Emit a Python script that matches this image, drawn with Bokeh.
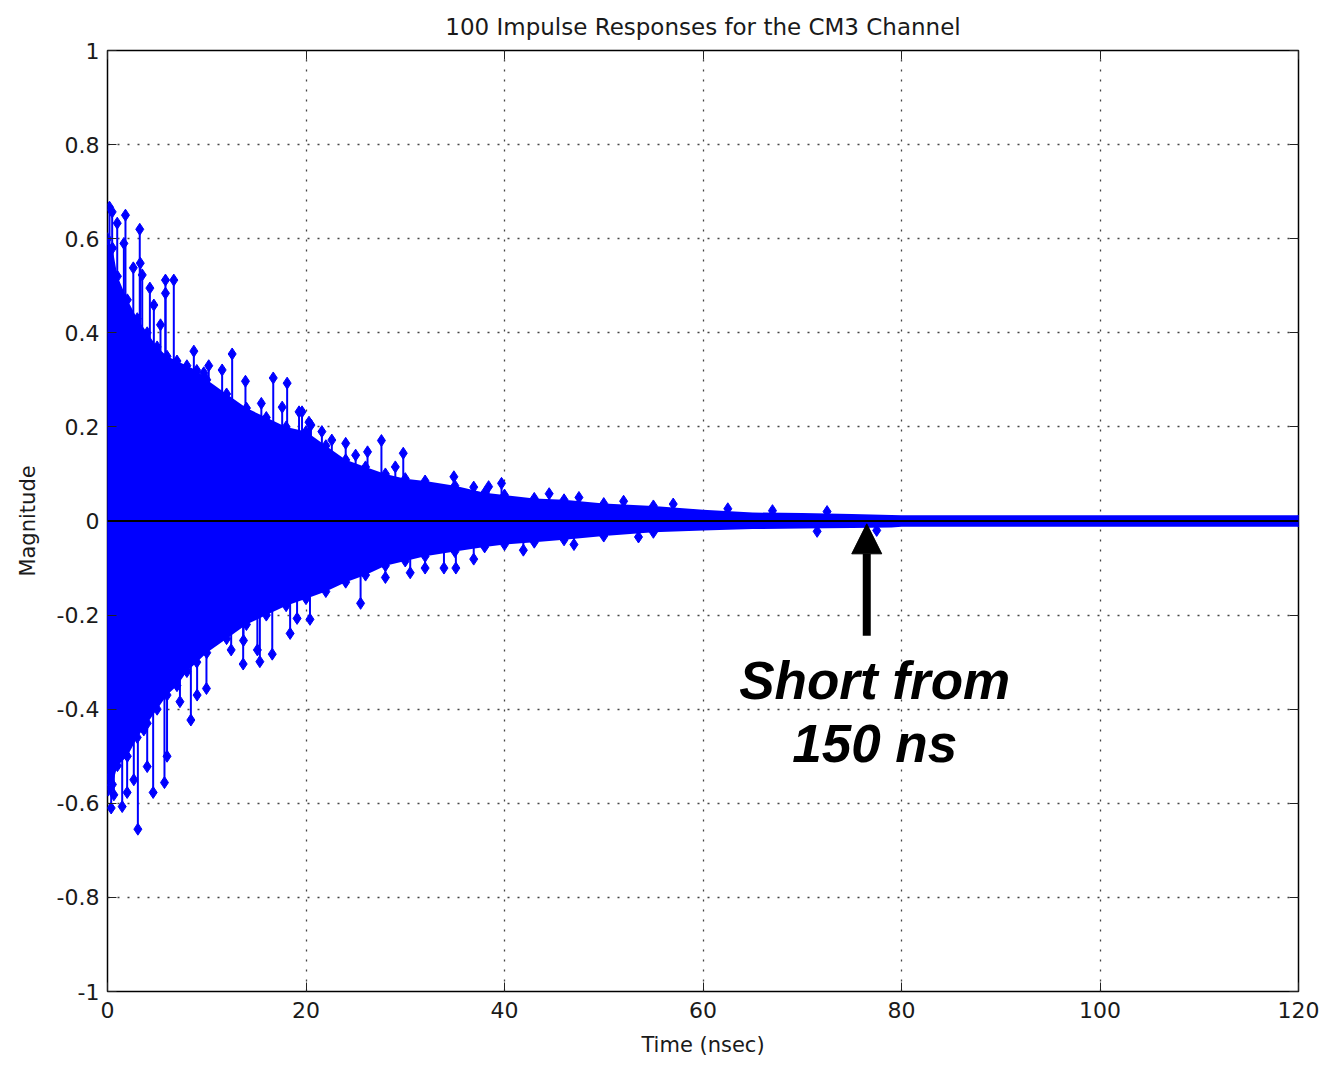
from bokeh.plotting import figure
from bokeh.models import (Range1d, FixedTicker, LinearAxis, Span, Label, Arrow, NormalHead,
                          ColumnDataSource, CustomJSTickFormatter)
from bokeh.embed import file_html
from bokeh.resources import INLINE

# ---- data ----
# envelope of the dense (solid) part of the 100 overlaid responses
env_t = [0, 0.5, 1, 2, 3, 4, 5, 6, 7, 8, 9, 10, 12, 14, 16, 18, 20, 22, 24, 26, 28, 30,
         32, 35, 38, 40, 43, 46, 50, 55, 60, 65, 70, 75, 79, 80, 120]
env_up = [0.60, 0.58, 0.52, 0.47, 0.43, 0.40, 0.37, 0.35, 0.34, 0.33, 0.32, 0.30, 0.27,
          0.24, 0.22, 0.20, 0.19, 0.16, 0.13, 0.115, 0.10, 0.09, 0.085, 0.075, 0.06, 0.055,
          0.048, 0.045, 0.037, 0.032, 0.024, 0.018, 0.017, 0.015, 0.013, 0.012, 0.012]
env_lo = [-0.55, -0.56, -0.52, -0.50, -0.46, -0.43, -0.40, -0.37, -0.35, -0.32, -0.30,
          -0.28, -0.25, -0.22, -0.20, -0.18, -0.165, -0.15, -0.13, -0.115, -0.095, -0.085,
          -0.075, -0.065, -0.055, -0.05, -0.045, -0.04, -0.032, -0.024, -0.02, -0.017,
          -0.016, -0.015, -0.014, -0.012, -0.012]

# isolated positive peaks
pos_t = [0.2, 0.47, 0.98, 1.81, 3.25, 1.65, 3.3, 2.6, 3.5, 4.27, 5.84, 6.68, 5.84, 4.67,
         5.34, 8.7, 12.56, 10.2, 11.55, 9.7, 13.9, 16.7, 18.1, 15.5, 17.6, 19.3, 20.3,
         19.6, 24.0, 27.6, 26.2, 29.8, 25.0, 29.0, 34.9, 36.9, 38.4, 39.7, 20.5, 21.6, 22.6,
         44.5, 47.5, 52.0, 57.0, 62.5, 67.0, 72.5]
pos_v = [0.667, 0.657, 0.633, 0.650, 0.62, 0.59, 0.548, 0.538, 0.523, 0.495, 0.512, 0.512,
         0.484, 0.459, 0.417, 0.361, 0.355, 0.33, 0.321, 0.315, 0.297, 0.304, 0.293, 0.25,
         0.242, 0.232, 0.21, 0.232, 0.165, 0.171, 0.147, 0.144, 0.14, 0.115, 0.094, 0.072,
         0.073, 0.08, 0.204, 0.19, 0.172,
         0.058, 0.05, 0.042, 0.036, 0.026, 0.022, 0.02]

# isolated negative peaks
neg_t = [3.06, 0.37, 1.48, 0.64, 1.98, 0.05, 4.6, 5.74, 4.0, 6.0, 2.65, 8.4, 7.3, 9.03,
         9.97, 13.67, 15.35, 16.6, 12.46, 13.7, 18.4, 15.1, 20.4, 19.1, 3.66, 25.5, 28.0,
         30.5, 32.0, 36.9, 35.1, 33.9, 41.9, 47.0, 53.5, 71.5, 77.5]
neg_v = [-0.655, -0.61, -0.607, -0.582, -0.577, -0.572, -0.577, -0.556, -0.522, -0.5, -0.55,
         -0.423, -0.384, -0.37, -0.356, -0.304, -0.299, -0.283, -0.274, -0.254, -0.239,
         -0.274, -0.209, -0.207, -0.444, -0.175, -0.12, -0.11, -0.10, -0.081, -0.1, -0.1,
         -0.062, -0.05, -0.034, -0.022, -0.02]

x_ticks = [0, 20, 40, 60, 80, 100, 120]
y_ticks = [-1, -0.8, -0.6, -0.4, -0.2, 0, 0.2, 0.4, 0.6, 0.8, 1]
y_tick_labels = ["-1", "-0.8", "-0.6", "-0.4", "-0.2", "0", "0.2", "0.4", "0.6", "0.8", "1"]

title_text = "100 Impulse Responses for the CM3 Channel"
note_line1 = "Short from"
note_line2 = "150 ns"
arrow_t = 76.5

# ---- figure ----
BLUE = "#0000FF"
TXT = "#1a1a1a"
FONT = "DejaVu Sans"

p = figure(width=1322, height=1065, x_range=Range1d(0, 120), y_range=Range1d(-1, 1),
           output_backend="svg", toolbar_location=None,
           min_border_left=107, min_border_right=24, min_border_top=50, min_border_bottom=74,
           title=title_text)
p.title.align = "center"
p.title.text_font = FONT
p.title.text_font_size = "23px"
p.title.text_font_style = "normal"
p.title.text_color = TXT
p.title.offset = 0
p.title.standoff = 22

p.outline_line_color = "black"
p.outline_line_width = 1.5
p.background_fill_color = "white"
p.border_fill_color = "white"

# dense envelope
p.varea(x=env_t, y1=env_lo, y2=env_up, fill_color=BLUE)

# stems
all_t = pos_t + neg_t + env_t[:30] + env_t[:30]
all_v = pos_v + neg_v + env_up[:30] + env_lo[:30]
src = ColumnDataSource(dict(t=all_t, v=all_v, z=[0] * len(all_t)))
p.segment(x0="t", y0="z", x1="t", y1="v", source=src, line_color=BLUE, line_width=2)
p.scatter(x="t", y="v", source=src, marker="diamond", size=12,
          fill_color=BLUE, line_color=BLUE)
p.scatter(x=[env_t[-1]], y=[0], marker="diamond", size=12, fill_color=BLUE, line_color=BLUE)

# zero baseline
p.add_layout(Span(location=0, dimension="width", line_color="black", line_width=2))

# axes styling
for ax in (p.xaxis[0], p.yaxis[0]):
    ax.major_label_text_font = FONT
    ax.major_label_text_font_size = "22px"
    ax.major_label_text_color = TXT
    ax.axis_label_text_font = FONT
    ax.axis_label_text_font_size = "21px"
    ax.axis_label_text_font_style = "normal"
    ax.axis_label_text_color = TXT
    ax.axis_line_color = None
    ax.major_tick_in = 9
    ax.major_tick_out = 0
    ax.major_tick_line_color = "#222222"
    ax.minor_tick_line_color = None

p.xaxis.ticker = FixedTicker(ticks=x_ticks)
p.yaxis.ticker = FixedTicker(ticks=y_ticks)
p.yaxis.major_label_overrides = {v: s for v, s in zip(y_ticks, y_tick_labels)}
p.xaxis.major_label_standoff = 10
p.yaxis.major_label_standoff = 8
p.xaxis.axis_label = "Time (nsec)"
p.yaxis.axis_label = "Magnitude"
p.xaxis.axis_label_standoff = 12
p.yaxis.axis_label_standoff = 14

# mirrored ticks on top and right (no labels)
blank = CustomJSTickFormatter(code="return ''")
top = LinearAxis(ticker=FixedTicker(ticks=x_ticks), formatter=blank,
                 major_tick_in=9, major_tick_out=0, minor_tick_line_color=None,
                 axis_line_color=None, major_tick_line_color="#222222",
                 major_label_standoff=0)
right = LinearAxis(ticker=FixedTicker(ticks=y_ticks), formatter=blank,
                   major_tick_in=9, major_tick_out=0, minor_tick_line_color=None,
                   axis_line_color=None, major_tick_line_color="#222222",
                   major_label_standoff=0)
p.add_layout(top, "above")
p.add_layout(right, "right")

# grid
for g in (p.xgrid[0], p.ygrid[0]):
    g.grid_line_color = "#444444"
    g.grid_line_dash = "2 8"
    g.grid_line_width = 1.3
p.xgrid.ticker = FixedTicker(ticks=x_ticks)
p.ygrid.ticker = FixedTicker(ticks=y_ticks)

# annotation
p.add_layout(Arrow(end=NormalHead(size=30, fill_color="black", line_color="black"),
                   x_start=arrow_t, y_start=-0.244, x_end=arrow_t, y_end=-0.006,
                   line_color="black", line_width=8))
for txt, yv in ((note_line1, -0.338), (note_line2, -0.472)):
    p.add_layout(Label(x=77.3, y=yv, text=txt, text_align="center", text_baseline="middle",
                       text_font="Liberation Sans", text_font_size="53px",
                       text_font_style="bold italic", text_color="black"))

open("out.html", "w").write(file_html(p, INLINE))
